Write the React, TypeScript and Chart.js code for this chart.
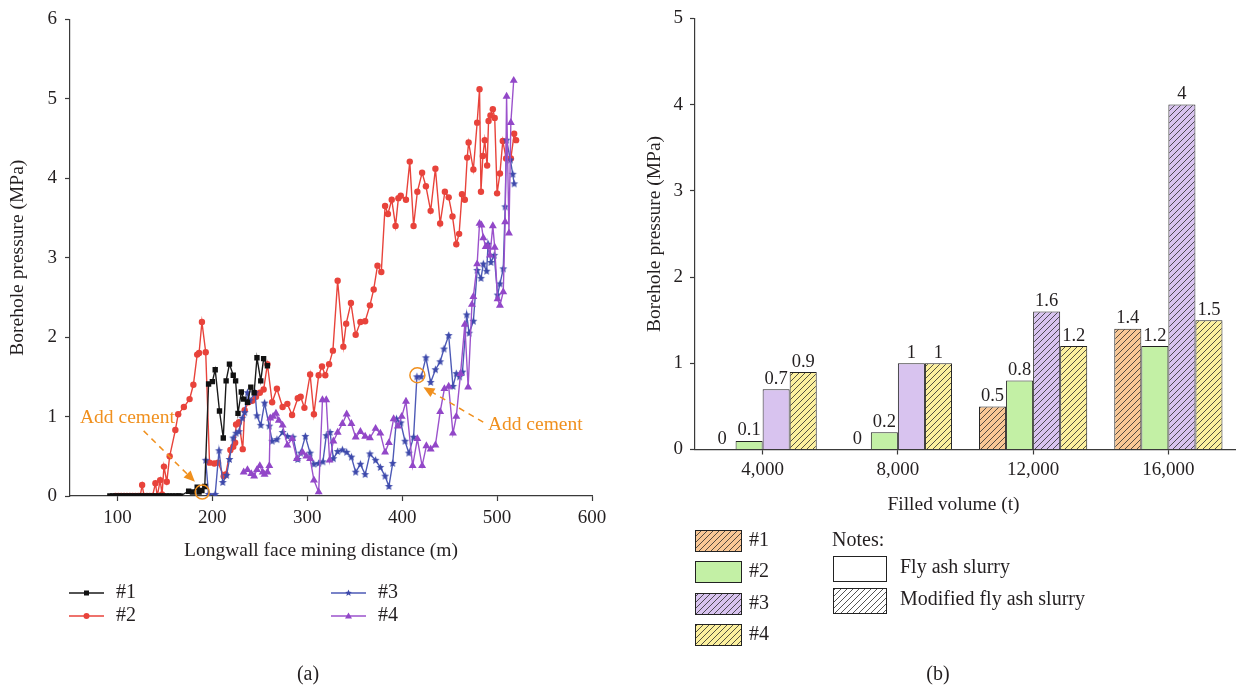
import React, { useEffect, useRef } from 'react';
import { Chart, registerables } from 'chart.js';

Chart.register(...registerables);

const FONT = "'Liberation Serif', 'DejaVu Serif', serif";
const TEXT = '#231f20';
const AXIS = '#3a3a3a';
const ORANGE = '#f0901e';

// ---------- Panel (a): borehole pressure vs mining distance ----------
const distanceTicks = [100, 200, 300, 400, 500, 600];

const series1: [number, number][] = [
  [92, 0], [95, 0], [98, 0], [101, 0], [104, 0], [107, 0], [110, 0], [113, 0], [116, 0], [119, 0],
  [122, 0], [125, 0], [128, 0], [131, 0], [134, 0], [137, 0], [140, 0], [143, 0], [146, 0], [149, 0],
  [152, 0], [155, 0], [158, 0], [161, 0], [164, 0], [166, 0], [175, 0.06], [179, 0.05], [184, 0.11],
  [186, 0.05], [189, 0.07], [192, 0.12], [196, 1.41], [200, 1.44], [203, 1.59], [207.5, 1.07],
  [211.5, 0.73], [214.5, 1.45], [218, 1.66], [222, 1.52], [224.5, 1.45], [227, 1.04], [230.5, 1.31],
  [233, 1.22], [237, 1.18], [240.5, 1.37], [244, 1.3], [247, 1.74], [251, 1.45], [254, 1.73], [258, 1.64],
];

const series2: [number, number][] = [
  [98, 0], [101, 0], [104, 0], [107, 0], [110, 0], [113, 0], [116, 0], [119, 0], [122, 0], [124, 0],
  [126, 0.14], [128, 0], [131, 0], [134, 0], [137, 0], [140, 0.16], [142, 0], [145, 0.2], [147, 0.02],
  [149, 0.37], [152, 0.18], [155, 0.5], [161, 0.83], [164, 1.03], [170, 1.12], [176, 1.22], [180, 1.4],
  [184, 1.78], [186, 1.8], [189, 2.19], [193, 1.81], [197, 0.42], [202, 0.41], [206, 0.42], [212, 0.25],
  [214, 0.27], [219, 0.58], [222, 0.62], [224, 0.67], [225, 0.9], [228, 0.93], [232, 0.59], [234, 1.08],
  [238, 1.18], [242, 1.2], [246, 1.25], [250, 1.3], [254, 1.34], [258, 1.66], [263, 1.18], [268, 1.35],
  [274, 1.12], [279, 1.16], [284, 1.02], [290, 1.23], [293, 1.25], [297, 1.11], [303, 1.53], [307, 1.03],
  [312, 1.52], [315.5, 1.63], [319, 1.52], [323, 1.66], [327, 1.83], [332, 2.71], [338, 1.88], [341, 2.17],
  [346, 2.43], [351, 2.03], [356, 2.19], [361, 2.2], [366, 2.4], [370, 2.6], [374, 2.9], [378, 2.82],
  [382, 3.65], [385, 3.55], [389, 3.73], [393, 3.4], [396, 3.75], [398.5, 3.78], [404, 3.73], [408, 4.21],
  [412, 3.4], [416, 3.83], [421, 4.07], [425, 3.9], [430, 3.59], [435, 4.12], [440, 3.43], [445, 3.83],
  [449, 3.76], [453, 3.52], [457, 3.17], [460, 3.3], [463, 3.8], [466, 3.73], [468.5, 4.26], [470, 4.45],
  [475, 4.11], [479, 4.7], [481.5, 5.12], [483, 3.83], [485, 4.28], [487, 4.48], [489.5, 4.16], [491, 4.72],
  [493, 4.79], [495.5, 4.87], [497.5, 4.76], [500, 3.81], [503, 4.06], [506, 4.47], [509.5, 4.25],
  [514.5, 4.25], [518, 4.56], [520, 4.48],
];

const series3: [number, number][] = [
  [193, 0.45], [196, 0.02], [203, 0.02], [207, 0.57], [211, 0.17], [215, 0.26], [218, 0.46], [222, 0.73],
  [225, 0.79], [228, 0.81], [231.5, 0.98], [234, 1.05], [237, 1.3], [239.5, 1.2], [245, 1.3], [247, 1.01],
  [251, 0.89], [255, 1.17], [260, 0.88], [263, 0.69], [268, 0.71], [274, 0.8], [279, 0.75], [285, 0.74],
  [290, 0.46], [293, 0.54], [298, 0.75], [303, 0.54], [307, 0.4], [312, 0.41], [316.5, 0.43], [320, 0.76],
  [324, 0.8], [327.5, 0.47], [332, 0.56], [337, 0.58], [341.5, 0.55], [346.5, 0.49], [351, 0.3], [356, 0.4],
  [361, 0.27], [366, 0.53], [372, 0.45], [377, 0.36], [382, 0.25], [386, 0.12], [390, 0.41], [394, 0.97],
  [398.5, 0.92], [403, 0.69], [407, 0.54], [412, 0.74], [415.5, 1.5], [420, 1.5], [425, 1.74], [430, 1.43],
  [435, 1.59], [440, 1.69], [444, 1.85], [449, 2.02], [453.5, 1.38], [457, 1.54], [460.5, 1.5], [463.5, 1.56],
  [468, 2.28], [470.5, 2.05], [475, 2.2], [479, 2.84], [483, 2.74], [485.5, 2.92], [489, 2.83], [490.5, 3.17],
  [493.5, 2.94], [497, 3.03], [500.5, 2.53], [503, 2.67], [506.5, 2.86], [508.5, 3.64], [510, 4.48],
  [514, 4.23], [516.5, 4.05], [518, 3.93],
];

const series4: [number, number][] = [
  [233, 0.3], [237, 0.33], [241, 0.28], [244, 0.25], [247, 0.33], [250, 0.38], [253, 0.3], [255, 0.27],
  [258, 0.3], [260, 0.38], [261, 0.98], [264, 1.0], [267, 1.04], [270, 0.95], [274, 0.89], [279, 0.64],
  [284, 0.72], [289, 0.47], [295, 0.55], [299, 0.5], [303, 0.47], [307, 0.2], [312, 0.05], [316, 1.21],
  [320, 1.21], [323.5, 0.45], [327.5, 0.69], [332, 0.8], [337, 0.91], [341.5, 1.03], [346.5, 0.91],
  [351, 0.74], [356, 0.81], [361, 0.75], [366, 0.73], [372, 0.85], [377, 0.79], [382, 0.55], [386, 0.67],
  [391, 0.97], [395.5, 0.88], [399.5, 1.0], [404, 1.19], [411, 0.38], [416, 0.72], [421, 0.38],
  [425.5, 0.63], [430, 0.59], [435, 0.64], [440, 1.06], [444.5, 1.35], [449, 1.38], [453.5, 0.79],
  [457, 1.0], [461.5, 1.54], [466, 2.16], [469.5, 1.37], [473.5, 2.41], [475, 2.51], [479, 2.92],
  [481.5, 3.43], [483.5, 3.41], [485.5, 3.25], [488, 3.14], [490.5, 3.14], [492.5, 3.03], [495.5, 3.4],
  [497.5, 3.13], [500.5, 2.48], [503, 2.4], [506.5, 2.57], [508.5, 3.45], [510, 5.03], [512.5, 3.31],
  [514.5, 4.7], [517.5, 5.23],
];

const seriesNames = ['#1', '#2', '#3', '#4'];

// ---------- Panel (b): borehole pressure vs filled volume ----------
const volumeLabels = ['4,000', '8,000', '12,000', '16,000'];
const pressure1 = [0, 0, 0.5, 1.4];
const pressure2 = [0.1, 0.2, 0.8, 1.2];
const pressure3 = [0.7, 1, 1.6, 4];
const pressure4 = [0.9, 1, 1.2, 1.5];
const modified1 = [false, false, true, true];
const modified2 = [false, false, false, false];
const modified3 = [false, false, true, true];
const modified4 = [true, true, true, true];

const LINE_COLORS = ['#1a1a1a', '#e8433b', '#4d5ab6', '#9b52cc'];
const MARK_COLORS = ['#111111', '#e8433b', '#3d49ab', '#9247c8'];
const BAR_COLORS = ['#f9c795', '#c3f0a5', '#d8c3ef', '#fcf09e'];

const TICK_SIZE = 19;
const TITLE_SIZE = 19.5;
const LEGEND_SIZE = 20;
const BAR_LABEL_SIZE = 18.5;

function makeStar(color: string, r: number): HTMLCanvasElement {
  const c = document.createElement('canvas');
  const s = Math.ceil(r * 2 + 2);
  c.width = s;
  c.height = s;
  const ctx = c.getContext('2d')!;
  ctx.fillStyle = color;
  ctx.beginPath();
  for (let i = 0; i < 10; i++) {
    const a = -Math.PI / 2 + (i * Math.PI) / 5;
    const rad = i % 2 === 0 ? r : r * 0.45;
    const px = s / 2 + rad * Math.cos(a);
    const py = s / 2 + rad * Math.sin(a);
    if (i === 0) ctx.moveTo(px, py);
    else ctx.lineTo(px, py);
  }
  ctx.closePath();
  ctx.fill();
  return c;
}

function makeHatch(bg: string): CanvasPattern {
  const c = document.createElement('canvas');
  c.width = 6;
  c.height = 6;
  const x = c.getContext('2d')!;
  x.fillStyle = bg;
  x.fillRect(0, 0, 6, 6);
  x.strokeStyle = '#2a2a2a';
  x.lineWidth = 0.8;
  x.beginPath();
  x.moveTo(0, 6);
  x.lineTo(6, 0);
  x.moveTo(-1, 1);
  x.lineTo(1, -1);
  x.moveTo(5, 7);
  x.lineTo(7, 5);
  x.stroke();
  return x.createPattern(c, 'repeat')!;
}

function drawMarker(ctx: CanvasRenderingContext2D, kind: number, x: number, y: number, color: string) {
  ctx.fillStyle = color;
  ctx.beginPath();
  if (kind === 0) {
    ctx.rect(x - 2.5, y - 2.5, 5, 5);
    ctx.fill();
  } else if (kind === 1) {
    ctx.arc(x, y, 3, 0, Math.PI * 2);
    ctx.fill();
  } else if (kind === 2) {
    for (let i = 0; i < 10; i++) {
      const a = -Math.PI / 2 + (i * Math.PI) / 5;
      const rad = i % 2 === 0 ? 3.6 : 1.6;
      const px = x + rad * Math.cos(a);
      const py = y + rad * Math.sin(a);
      if (i === 0) ctx.moveTo(px, py);
      else ctx.lineTo(px, py);
    }
    ctx.closePath();
    ctx.fill();
  } else {
    ctx.moveTo(x, y - 3.5);
    ctx.lineTo(x + 3.5, y + 2.5);
    ctx.lineTo(x - 3.5, y + 2.5);
    ctx.closePath();
    ctx.fill();
  }
}

function arrow(ctx: CanvasRenderingContext2D, x1: number, y1: number, x2: number, y2: number) {
  const ang = Math.atan2(y2 - y1, x2 - x1);
  const head = 11;
  const bx = x2 - head * Math.cos(ang);
  const by = y2 - head * Math.sin(ang);
  ctx.setLineDash([6, 5]);
  ctx.beginPath();
  ctx.moveTo(x1, y1);
  ctx.lineTo(bx, by);
  ctx.stroke();
  ctx.setLineDash([]);
  ctx.beginPath();
  ctx.moveTo(x2, y2);
  ctx.lineTo(bx + 5 * Math.sin(ang), by - 5 * Math.cos(ang));
  ctx.lineTo(bx - 5 * Math.sin(ang), by + 5 * Math.cos(ang));
  ctx.closePath();
  ctx.fill();
}

function xTitlePlugin(text: string, y: number, shift: number) {
  return {
    id: 'xTitle',
    afterDraw(chart: any) {
      const { ctx, chartArea } = chart;
      ctx.save();
      ctx.font = `${TITLE_SIZE}px ${FONT}`;
      ctx.fillStyle = TEXT;
      ctx.textAlign = 'center';
      ctx.textBaseline = 'middle';
      ctx.fillText(text, (chartArea.left + chartArea.right) / 2 + shift, y);
      ctx.restore();
    },
  };
}

const annotationPlugin = {
  id: 'addCement',
  afterDatasetsDraw(chart: any) {
    const { ctx } = chart;
    const xs = chart.scales.x;
    const ys = chart.scales.y;
    const P = (v: number, p: number) => [xs.getPixelForValue(v), ys.getPixelForValue(p)];
    ctx.save();
    ctx.strokeStyle = ORANGE;
    ctx.fillStyle = ORANGE;
    ctx.lineWidth = 1.5;
    const [c1x, c1y] = P(189.3, 0.05);
    ctx.beginPath();
    ctx.arc(c1x, c1y, 7, 0, Math.PI * 2);
    ctx.stroke();
    const [c2x, c2y] = P(416, 1.52);
    ctx.beginPath();
    ctx.arc(c2x, c2y, 7.5, 0, Math.PI * 2);
    ctx.stroke();
    const [a1x, a1y] = P(127.6, 0.82);
    const [t1x, t1y] = P(181.6, 0.18);
    arrow(ctx, a1x, a1y, t1x, t1y);
    const [a2x, a2y] = P(485.4, 0.93);
    const [t2x, t2y] = P(422.4, 1.37);
    arrow(ctx, a2x, a2y, t2x, t2y);
    ctx.font = `${TITLE_SIZE}px ${FONT}`;
    ctx.textBaseline = 'middle';
    ctx.textAlign = 'center';
    const [l1x, l1y] = P(110.5, 0.98);
    ctx.fillText('Add cement', l1x, l1y);
    ctx.textAlign = 'left';
    const [l2x, l2y] = P(490.3, 0.9);
    ctx.fillText('Add cement', l2x, l2y);
    ctx.restore();
  },
};

const leftLegendPlugin = {
  id: 'leftLegend',
  afterDraw(chart: any) {
    const { ctx } = chart;
    ctx.save();
    const spots = [
      { x: 69, y: 593 },
      { x: 69, y: 616 },
      { x: 331, y: 593 },
      { x: 331, y: 616 },
    ];
    spots.forEach((s, i) => {
      ctx.strokeStyle = LINE_COLORS[i];
      ctx.lineWidth = 1.5;
      ctx.beginPath();
      ctx.moveTo(s.x, s.y);
      ctx.lineTo(s.x + 35, s.y);
      ctx.stroke();
      drawMarker(ctx, i, s.x + 17.5, s.y, MARK_COLORS[i]);
      ctx.fillStyle = TEXT;
      ctx.font = `${LEGEND_SIZE}px ${FONT}`;
      ctx.textAlign = 'left';
      ctx.textBaseline = 'middle';
      ctx.fillText(seriesNames[i], s.x + 47, s.y);
    });
    ctx.textAlign = 'center';
    ctx.fillText('(a)', 308, 675);
    ctx.restore();
  },
};

const barLabelPlugin = {
  id: 'barLabels',
  afterDatasetsDraw(chart: any) {
    const { ctx } = chart;
    ctx.save();
    ctx.font = `${BAR_LABEL_SIZE}px ${FONT}`;
    ctx.fillStyle = TEXT;
    ctx.textAlign = 'center';
    ctx.textBaseline = 'bottom';
    chart.data.datasets.forEach((ds: any, i: number) => {
      const meta = chart.getDatasetMeta(i);
      meta.data.forEach((el: any, j: number) => {
        ctx.fillText(String(ds.data[j]), el.x, el.y - 1);
      });
    });
    ctx.restore();
  },
};

function rightLegendPlugin(patterns: CanvasPattern[], whiteHatch: CanvasPattern) {
  return {
    id: 'rightLegend',
    afterDraw(chart: any) {
      const { ctx } = chart;
      ctx.save();
      const rows = [541, 572, 604, 635];
      const hatched = [true, false, true, true];
      ctx.font = `${LEGEND_SIZE}px ${FONT}`;
      rows.forEach((y, i) => {
        ctx.fillStyle = hatched[i] ? patterns[i] : BAR_COLORS[i];
        ctx.fillRect(75, y - 10.5, 46, 21);
        ctx.strokeStyle = '#222';
        ctx.lineWidth = 1;
        ctx.strokeRect(75.5, y - 10.5, 46, 21);
        ctx.fillStyle = TEXT;
        ctx.textAlign = 'left';
        ctx.textBaseline = 'middle';
        ctx.fillText(seriesNames[i], 129, y);
      });
      ctx.fillText('Notes:', 212, 541);
      ctx.fillStyle = '#ffffff';
      ctx.fillRect(213, 556, 53, 25);
      ctx.strokeStyle = '#222';
      ctx.strokeRect(213.5, 556.5, 53, 25);
      ctx.fillStyle = whiteHatch;
      ctx.fillRect(213, 588, 53, 25);
      ctx.strokeRect(213.5, 588.5, 53, 25);
      ctx.fillStyle = TEXT;
      ctx.fillText('Fly ash slurry', 280, 568);
      ctx.fillText('Modified fly ash slurry', 280, 600);
      ctx.textAlign = 'center';
      ctx.fillText('(b)', 318, 675);
      ctx.restore();
    },
  };
}

export default function App() {
  const leftRef = useRef<HTMLCanvasElement>(null);
  const rightRef = useRef<HTMLCanvasElement>(null);

  useEffect(() => {
    Chart.defaults.font.family = FONT;
    Chart.defaults.color = TEXT;

    const star = makeStar(MARK_COLORS[2], 4.2);
    const toXY = (arr: [number, number][]) => arr.map(([x, y]) => ({ x, y }));
    const lineSets = [series1, series2, series3, series4].map((s, i) => ({
      label: seriesNames[i],
      data: toXY(s),
      borderColor: LINE_COLORS[i],
      backgroundColor: MARK_COLORS[i],
      pointBackgroundColor: MARK_COLORS[i],
      pointBorderColor: MARK_COLORS[i],
      pointBorderWidth: 0,
      borderWidth: 1.4,
      pointStyle: (i === 0 ? 'rect' : i === 1 ? 'circle' : i === 2 ? star : 'triangle') as any,
      pointRadius: i === 0 ? 3.8 : i === 1 ? 3.2 : i === 2 ? 4.2 : 4.6,
      tension: 0,
      order: [1, 3, 2, 0][i],
    }));

    const axisCommon = {
      border: { display: true, color: AXIS, width: 1.2 },
      grid: {
        display: true,
        drawOnChartArea: false,
        drawTicks: true,
        tickLength: 5,
        color: AXIS,
        tickColor: AXIS,
        tickWidth: 1.2,
      },
    };

    const c1 = new Chart(leftRef.current!, {
      type: 'line',
      data: { datasets: lineSets as any },
      options: {
        animation: false,
        responsive: true,
        maintainAspectRatio: false,
        events: [],
        layout: { padding: { left: 0, top: 14, right: 28, bottom: 126 } },
        plugins: { legend: { display: false }, tooltip: { enabled: false } },
        scales: {
          x: {
            type: 'linear',
            min: 50,
            max: 600,
            ...axisCommon,
            afterBuildTicks: (s: any) => {
              s.ticks = distanceTicks.map((v) => ({ value: v }));
            },
            afterFit: (s: any) => {
              s.height = 67;
            },
            ticks: { font: { size: TICK_SIZE }, color: TEXT, padding: 6, maxRotation: 0 },
            title: { display: false },
          },
          y: {
            type: 'linear',
            min: 0,
            max: 6,
            ...axisCommon,
            afterFit: (s: any) => {
              s.width = 70;
            },
            ticks: { stepSize: 1, font: { size: TICK_SIZE }, color: TEXT, padding: 8 },
            title: {
              display: true,
              text: 'Borehole pressure (MPa)',
              font: { size: TITLE_SIZE },
              color: TEXT,
              padding: { top: 6, bottom: 0 },
            },
          },
        } as any,
      },
      plugins: [
        annotationPlugin,
        leftLegendPlugin,
        xTitlePlugin('Longwall face mining distance (m)', 551, -10),
      ],
    });

    const patterns = BAR_COLORS.map((c) => makeHatch(c));
    const whiteHatch = makeHatch('#ffffff');
    const pressures = [pressure1, pressure2, pressure3, pressure4];
    const modified = [modified1, modified2, modified3, modified4];
    const barSets = pressures.map((d, i) => ({
      label: seriesNames[i],
      data: d,
      backgroundColor: (ctx: any) => (modified[i][ctx.dataIndex] ? patterns[i] : BAR_COLORS[i]),
      borderColor: '#222222',
      borderWidth: 1,
      categoryPercentage: 0.8,
      barPercentage: 1,
    }));

    const c2 = new Chart(rightRef.current!, {
      type: 'bar',
      data: { labels: volumeLabels, datasets: barSets as any },
      options: {
        animation: false,
        responsive: true,
        maintainAspectRatio: false,
        events: [],
        layout: { padding: { left: 0, top: 13.5, right: 0, bottom: 172.5 } },
        plugins: { legend: { display: false }, tooltip: { enabled: false } },
        scales: {
          x: {
            ...axisCommon,
            grid: { ...axisCommon.grid, offset: false },
            afterFit: (s: any) => {
              s.height = 67;
            },
            ticks: { font: { size: TICK_SIZE }, color: TEXT, padding: 4, maxRotation: 0 },
            title: { display: false },
          },
          y: {
            type: 'linear',
            min: 0,
            max: 5,
            ...axisCommon,
            afterFit: (s: any) => {
              s.width = 75;
            },
            ticks: { stepSize: 1, font: { size: TICK_SIZE }, color: TEXT, padding: 7 },
            title: {
              display: true,
              text: 'Borehole pressure (MPa)',
              font: { size: TITLE_SIZE },
              color: TEXT,
              padding: { top: 23, bottom: 0 },
            },
          },
        } as any,
      },
      plugins: [
        barLabelPlugin,
        rightLegendPlugin(patterns, whiteHatch),
        xTitlePlugin('Filled volume (t)', 505, -12),
      ],
    });

    return () => {
      c1.destroy();
      c2.destroy();
    };
  }, []);

  return (
    <div
      style={{
        position: 'fixed',
        left: 0,
        top: 0,
        width: 1236,
        height: 689,
        background: '#ffffff',
        overflow: 'hidden',
      }}
    >
      <div style={{ position: 'absolute', left: 0, top: 0, width: 620, height: 689 }}>
        <canvas ref={leftRef} />
      </div>
      <div style={{ position: 'absolute', left: 620, top: 0, width: 616, height: 689 }}>
        <canvas ref={rightRef} />
      </div>
    </div>
  );
}
